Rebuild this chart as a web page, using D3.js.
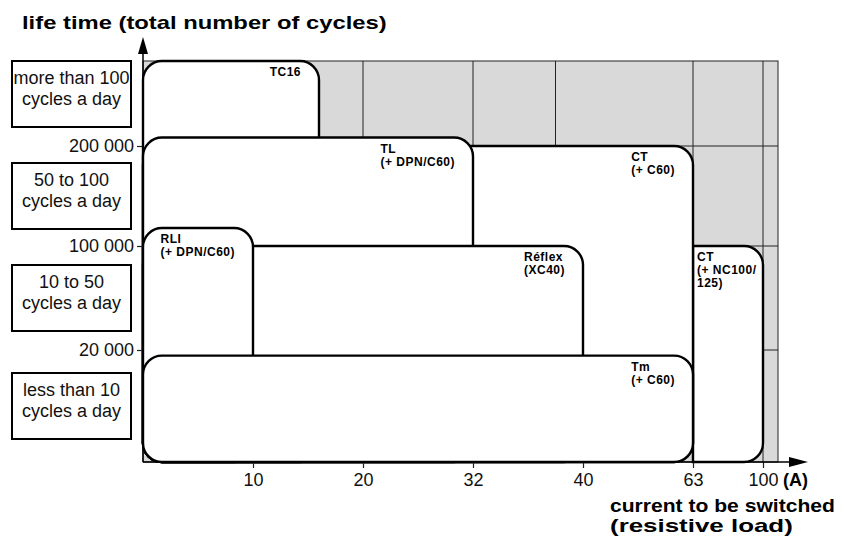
<!DOCTYPE html>
<html>
<head>
<meta charset="utf-8">
<script src="https://cdn.jsdelivr.net/npm/d3@7"></script>
<style>
  body { margin: 0; background: #fff; }
  text { font-family: "Liberation Sans", Arial, sans-serif; fill: #111; }
</style>
</head>
<body>
<svg id="chart" width="846" height="537"></svg>
<script>
// current ratings (A) on the x axis, life time (cycles) on the y axis
var currentTicks = [10, 20, 32, 40, 63, 100];
var lifeTicks = [20000, 100000, 200000];
var gridCurrents = [20, 32, 38, 63, 100];

var usageBands = [
  ["more than 100", "cycles a day"],
  ["50 to 100", "cycles a day"],
  ["10 to 50", "cycles a day"],
  ["less than 10", "cycles a day"]
];
var bandLimits = [300000, 200000, 100000, 20000, 0];

// product ranges, in drawing order (later ones sit on top)
var rangeLabels = [
  ["TC16"],
  ["CT", "(+ NC100/", "125)"],
  ["CT", "(+ C60)"],
  ["TL", "(+ DPN/C60)"],
  ["Réflex", "(XC40)"],
  ["RLI", "(+ DPN/C60)"],
  ["Tm", "(+ C60)"]
];
var rangeFrom = [0, 63, 0, 0, 0, 0, 0];
var rangeTo = [16, 100, 63, 32, 40, 10, 63];
var rangeLife = [300000, 100000, 200000, 210000, 100000, 118000, 19000];

var svg = d3.select("#chart");

// the scales are not uniform on the original, so piecewise linear
var x = d3.scaleLinear()
  .domain([0, 10, 20, 32, 40, 63, 100, 125])
  .range([143, 253, 363, 473, 583, 693, 763, 778]);
var y = d3.scaleLinear()
  .domain([0, 20000, 100000, 200000, 300000])
  .range([462, 350, 246, 146, 61]);

var plotL = x(0), plotR = x(125), plotT = y(300000), plotB = y(0);

// grey background
svg.append("rect")
  .attr("x", plotL).attr("y", plotT)
  .attr("width", plotR - plotL).attr("height", plotB - plotT)
  .style("fill", "#d9d9d9")
  .style("stroke", "#222")
  .style("stroke-width", 1);

var grid = svg.append("g").attr("class", "grid");
gridCurrents.forEach(function(c) {
  grid.append("line")
    .attr("x1", x(c)).attr("x2", x(c))
    .attr("y1", plotT).attr("y2", plotB)
    .style("stroke", "#222").style("stroke-width", 1);
});
lifeTicks.forEach(function(v) {
  grid.append("line")
    .attr("x1", plotL).attr("x2", plotR)
    .attr("y1", y(v)).attr("y2", y(v))
    .style("stroke", "#222").style("stroke-width", 1);
});

// rounded box, left corners square when the range doesn't start at 0
function boxPath(x0, x1, yTop, yBot, r, roundLeft) {
  var p = d3.path();
  if (roundLeft) {
    p.moveTo(x0, yTop + r);
    p.arcTo(x0, yTop, x0 + r, yTop, r);
  } else {
    p.moveTo(x0, yTop);
  }
  p.lineTo(x1 - r, yTop);
  p.arcTo(x1, yTop, x1, yTop + r, r);
  p.lineTo(x1, yBot - r);
  p.arcTo(x1, yBot, x1 - r, yBot, r);
  if (roundLeft) {
    p.lineTo(x0 + r, yBot);
    p.arcTo(x0, yBot, x0, yBot - r, r);
  } else {
    p.lineTo(x0, yBot);
  }
  p.closePath();
  return p.toString();
}

var boxes = svg.append("g").attr("class", "ranges");
rangeLabels.forEach(function(lines, i) {
  var x0 = x(rangeFrom[i]), x1 = x(rangeTo[i]), yTop = y(rangeLife[i]);
  boxes.append("path")
    .attr("d", boxPath(x0, x1, yTop, plotB, 19, rangeFrom[i] == 0))
    .style("fill", "#fff")
    .style("stroke", "#000")
    .style("stroke-width", 2.4);

  var label = boxes.append("text")
    .style("font-size", "12px")
    .style("font-weight", "bold")
    .style("letter-spacing", "0.5px")
    .style("fill", "#000");
  lines.forEach(function(t, j) {
    label.append("tspan").attr("y", yTop + 15 + j * 13).text(t);
  });
  var w = d3.max(label.selectAll("tspan").nodes(), function(n) { return n.getComputedTextLength(); });
  var lx = Math.max(x0 + 4, x1 - 18 - w);
  label.selectAll("tspan").attr("x", lx);
});

// axes
var yAxis = svg.append("g")
  .attr("transform", "translate(" + plotL + ",0)")
  .call(d3.axisLeft(y).tickValues(lifeTicks).tickSize(6).tickPadding(3)
    .tickFormat(function(d) { return d3.format(",")(d).replace(/,/g, " "); }));
var xAxis = svg.append("g")
  .attr("transform", "translate(0," + plotB + ")")
  .call(d3.axisBottom(x).tickValues(currentTicks).tickSize(6).tickPadding(5));
[yAxis, xAxis].forEach(function(a) {
  a.select(".domain").remove();
  a.selectAll("line").style("stroke", "#222").style("stroke-width", 1.2);
  a.selectAll("text")
    .style("font-size", "18px")
    .style("font-family", "'Liberation Sans', Arial, sans-serif")
    .style("fill", "#111");
});

// axis lines with arrows
svg.append("line")
  .attr("x1", plotL).attr("x2", plotL).attr("y1", plotB).attr("y2", 50)
  .style("stroke", "#000").style("stroke-width", 1.5);
svg.append("path")
  .attr("d", "M" + plotL + ",37 L" + (plotL - 5) + ",54 L" + (plotL + 5) + ",54 Z")
  .style("fill", "#000");
svg.append("line")
  .attr("x1", plotL).attr("x2", 792).attr("y1", plotB).attr("y2", plotB)
  .style("stroke", "#000").style("stroke-width", 1.5);
svg.append("path")
  .attr("d", "M808," + plotB + " L789," + (plotB - 5) + " L789," + (plotB + 5) + " Z")
  .style("fill", "#000");

// usage band boxes on the left
var bands = svg.append("g").attr("class", "bands");
usageBands.forEach(function(lines, i) {
  var yA = y(bandLimits[i]), yB = y(bandLimits[i + 1]);
  var bh = 66;
  var by = i == 0 ? yA : (yA + yB) / 2 - bh / 2;
  bands.append("rect")
    .attr("x", 12).attr("y", by)
    .attr("width", 119).attr("height", bh)
    .style("fill", "#fff")
    .style("stroke", "#000")
    .style("stroke-width", 2);
  bands.append("text")
    .attr("x", 71.5).attr("y", by + 23)
    .attr("text-anchor", "middle")
    .style("font-size", "18px")
    .text(lines[0]);
  bands.append("text")
    .attr("x", 71.5).attr("y", by + 44)
    .attr("text-anchor", "middle")
    .style("font-size", "18px")
    .text(lines[1]);
});

// bold titles, stretched sideways to the width they have on the original
function wideTitle(str, tx, ty, size, width) {
  var t = svg.append("text")
    .style("font-size", size + "px").style("font-weight", "bold").style("fill", "#000")
    .text(str);
  var k = width / t.node().getComputedTextLength();
  t.attr("transform", "translate(" + tx + "," + ty + ") scale(" + k + ",1)");
  return t;
}
wideTitle("life time (total number of cycles)", 22, 29, 19, 365);
wideTitle("current to be switched", 610, 512, 18, 225);
wideTitle("(resistive load)", 610, 532, 18, 183);
svg.append("text")
  .attr("x", 783).attr("y", 486)
  .style("font-size", "18px").style("font-weight", "bold").style("fill", "#000")
  .text("(A)");
</script>
</body>
</html>
